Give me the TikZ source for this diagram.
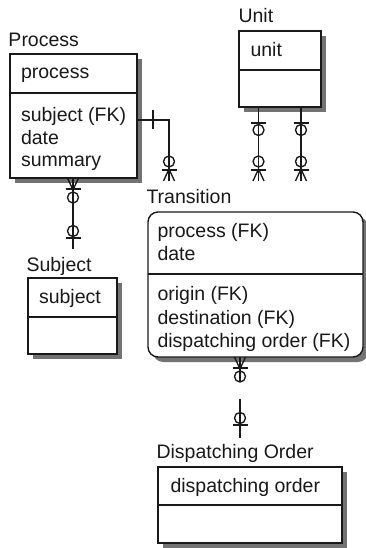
\documentclass[tikz,border=0pt]{standalone}
\usepackage{fontspec}
\setmainfont{Liberation Sans}
\usetikzlibrary{calc}

% Outline, drop shadow and key/non-key divider of one entity box
\newcommand\drawentity[3][]{%
  \fill[dropshadow,#1] ($(#2.north west)+(5,5)$) rectangle ($(#3.south east)+(5,5)$);
  \draw[boxline,fill=white,#1] (#2.north west) rectangle (#3.south east);
  \draw[boxline] (#2.south west) -- (#2.south east);
}

\begin{document}
\begin{tikzpicture}[x=1pt,y=-1pt,
  area/.style={inner sep=0pt,outer sep=0pt,anchor=north west},
  boxline/.style={draw=black!90,line width=1.4pt},
  dropshadow/.style={fill=black!55},
  txt/.style={inner sep=0pt,outer sep=0pt,anchor=base west,
              font=\fontsize{19.5}{23}\selectfont,text=black!90},
  rel/.style={draw=black!90,line width=1.35pt},
  % crow's foot with circle: zero or more (legs at the entity side)
  manyend/.pic={
    \draw[rel] (-5.5,0) -- (0,12) -- (5.5,0);
    \draw[rel] (-7.5,11) -- (7.5,11);
    \draw[rel] (0,19.5) circle[radius=5.5pt];
  },
  % bar with circle: zero or one
  optone/.pic={
    \draw[rel] (-7.5,0) -- (7.5,0);
    \draw[rel] (0,7) circle[radius=5.5pt];
  },
]
\useasboundingbox (0,0) rectangle (366,548);

% ---------- Process ----------
\node[area,minimum width=127pt,minimum height=39pt] (proc-key) at (10,54) {};
\node[area,minimum width=127pt,minimum height=85pt] (proc-body) at (10,93) {};
\drawentity{proc-key}{proc-body}
\node[txt] (proc-title) at (8.5,47) {Process};
\node[txt] (proc-pk) at (21,79) {process};
\node[txt] (proc-a1) at (21,122) {subject (FK)};
\node[txt] (proc-a2) at (21,144.5) {date};
\node[txt] (proc-a3) at (21,167) {summary};

% ---------- Unit ----------
\node[area,minimum width=82pt,minimum height=39pt] (unit-key) at (239,31) {};
\node[area,minimum width=82pt,minimum height=37pt] (unit-body) at (239,70) {};
\drawentity{unit-key}{unit-body}
\node[txt] (unit-title) at (238.5,23) {Unit};
\node[txt] (unit-pk) at (250.5,57) {unit};

% ---------- Subject ----------
\node[area,minimum width=89pt,minimum height=39pt] (subj-key) at (28,278) {};
\node[area,minimum width=89pt,minimum height=37pt] (subj-body) at (28,317) {};
\drawentity{subj-key}{subj-body}
\node[txt] (subj-title) at (26.5,271) {Subject};
\node[txt] (subj-pk) at (39,303) {subject};

% ---------- Transition ----------
\node[area,minimum width=215pt,minimum height=62pt] (trans-key) at (148,212) {};
\node[area,minimum width=215pt,minimum height=83pt] (trans-body) at (148,274) {};
\drawentity[rounded corners=10pt]{trans-key}{trans-body}
\node[txt] (trans-title) at (146.5,203) {Transition};
\node[txt] (trans-pk1) at (157.5,237) {process (FK)};
\node[txt] (trans-pk2) at (157.5,260.5) {date};
\node[txt] (trans-a1) at (157.5,300.5) {origin (FK)};
\node[txt] (trans-a2) at (157.5,324) {destination (FK)};
\node[txt] (trans-a3) at (157.5,347) {dispatching order (FK)};

% ---------- Dispatching Order ----------
\node[area,minimum width=184pt,minimum height=38pt] (disp-key) at (158,467) {};
\node[area,minimum width=184pt,minimum height=38pt] (disp-body) at (158,505) {};
\drawentity{disp-key}{disp-body}
\node[txt] (disp-title) at (156.5,458) {Dispatching Order};
\node[txt] (disp-pk) at (170.5,492) {dispatching order};

% ---------- Relationships ----------
% Process -> Transition (identifying)
\coordinate (pt-bend) at (169,120);
\coordinate (pt-end) at (169,181);
\draw[rel] (proc-body.east |- pt-bend) -- (pt-bend) -- (pt-end);
\draw[rel] ($(proc-body.east |- pt-bend)+(16,-9.5)$) -- ++(0,19);
\pic[rotate=180] at (pt-end) {manyend};

% Process -> Subject
\coordinate (ps-end) at (73,249);
\draw[rel] (proc-body.south -| ps-end) -- (ps-end);
\pic at (proc-body.south -| ps-end) {manyend};
\pic[rotate=180] at ($(ps-end)+(0,-11)$) {optone};

% Unit -> Transition (origin, destination)
\coordinate (ut1-end) at (258.5,181);
\coordinate (ut2-end) at (301,181);
\draw[rel] (unit-body.south -| ut1-end) -- (ut1-end);
\draw[rel] (unit-body.south -| ut2-end) -- (ut2-end);
\pic at ($(unit-body.south -| ut1-end)+(0,16)$) {optone};
\pic at ($(unit-body.south -| ut2-end)+(0,16)$) {optone};
\pic[rotate=180] at (ut1-end) {manyend};
\pic[rotate=180] at (ut2-end) {manyend};

% Transition -> Dispatching Order
\coordinate (td-gap) at (240,382);
\coordinate (td-resume) at (240,399);
\coordinate (td-end) at (240,438);
\draw[rel] (trans-body.south -| td-end) -- (td-gap) (td-resume) -- (td-end);
\pic at (trans-body.south -| td-end) {manyend};
\pic[rotate=180] at ($(td-end)+(0,-13)$) {optone};
\end{tikzpicture}
\end{document}
